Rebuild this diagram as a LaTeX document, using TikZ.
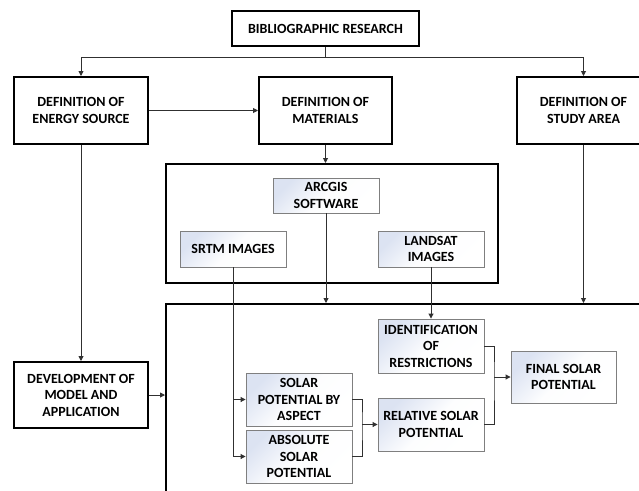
\documentclass[tikz,border=0pt]{standalone}
\usepackage{fontspec}
\setmainfont{Carlito}
\usetikzlibrary{arrows.meta,shapes.geometric}
\definecolor{conn}{HTML}{303030}
\definecolor{inborder}{HTML}{7F7F7F}
\definecolor{shadeblue}{HTML}{DCE3F2}
\tikzset{
  txt/.style={font=\fontsize{14}{16.5}\selectfont\bfseries, align=center, inner sep=0pt},
  mainbox/.style={txt, draw=black, line width=2pt, fill=white, rectangle},
  subbox/.style={txt, draw=inborder, line width=0.9pt, rectangle,
     top color=shadeblue, bottom color=white, middle color=white!94!shadeblue, shading angle=45},
  frame/.style={draw=black, line width=2pt, rectangle, inner sep=0pt},
  arr/.style={draw=conn, line width=0.9pt, -{Triangle[length=5pt,width=5pt]}},
  ln/.style={draw=conn, line width=0.9pt},
}
\begin{document}
\begin{tikzpicture}[x=1pt,y=-1pt]
\useasboundingbox (0,0) rectangle (639,490);
\clip (0,0) rectangle (639,490);
\fill[white] (0,0) rectangle (639,490);
% frames
\node[frame, minimum width=332pt, minimum height=119pt] (box1) at (332,223.5) {};
\node[frame, minimum width=534pt, minimum height=256pt] (box2) at (433,432) {};
% top boxes
\node[mainbox, minimum width=187pt, minimum height=35pt] (bib) at (325.5,28.5) {BIBLIOGRAPHIC RESEARCH};
\node[mainbox, minimum width=134pt, minimum height=67pt] (energy) at (81,110.5) {DEFINITION OF\\ENERGY SOURCE};
\node[mainbox, minimum width=133pt, minimum height=67pt] (mat) at (325.5,110.5) {DEFINITION OF\\MATERIALS};
\node[mainbox, minimum width=133pt, minimum height=67pt] (study) at (583.5,110.5) {DEFINITION OF\\STUDY AREA};
\node[mainbox, minimum width=134pt, minimum height=66pt] (dev) at (81,395) {DEVELOPMENT OF\\MODEL AND\\APPLICATION};
% inner boxes
\node[subbox, minimum width=106pt, minimum height=35pt] (arcgis) at (326,195.5) {ARCGIS\\SOFTWARE};
\node[subbox, minimum width=106pt, minimum height=36pt] (srtm) at (233,249) {SRTM IMAGES};
\node[subbox, minimum width=106pt, minimum height=36pt] (landsat) at (431,249) {LANDSAT\\IMAGES};
\node[subbox, minimum width=106pt, minimum height=53pt] (aspect) at (299,399.5) {SOLAR\\POTENTIAL BY\\ASPECT};
\node[subbox, minimum width=106pt, minimum height=53pt] (absolute) at (299,456.5) {ABSOLUTE\\SOLAR\\POTENTIAL};
\node[subbox, minimum width=106pt, minimum height=54pt] (ident) at (431,346) {IDENTIFICATION\\OF\\RESTRICTIONS};
\node[subbox, minimum width=106pt, minimum height=53pt] (relative) at (431,424.5) {RELATIVE SOLAR\\POTENTIAL};
\node[subbox, minimum width=105pt, minimum height=52pt] (final) at (563.5,377) {FINAL SOLAR\\POTENTIAL};
\coordinate (j1) at (362,424.5);
\coordinate (j2) at (494,377);
% connectors
\draw[arr] (bib.south) -- ++(0,10.5) -| (energy.north);
\draw[arr] (bib.south) -- ++(0,10.5) -| (study.north);
\draw[arr] (energy.east) -- (mat.west);
\draw[arr] (mat.south) -- (mat.south |- box1.north);
\draw[arr] (arcgis.south) -- (arcgis.south |- box2.north);
\draw[arr] (study.south) -- (study.south |- box2.north);
\draw[arr] (landsat.south) -- (ident.north);
\draw[arr] (energy.south) -- (dev.north);
\draw[arr] (dev.east) -- (dev.east -| box2.west);
\draw[arr] (srtm.south) |- (aspect.west);
\draw[arr] (srtm.south) |- (absolute.west);
\draw[ln] (aspect.east) -| (j1) |- (absolute.east);
\draw[arr] (j1) -- (relative.west);
\draw[ln] (ident.east) -| (j2) |- (relative.east);
\draw[arr] (j2) -- (final.west);
\end{tikzpicture}
\end{document}
